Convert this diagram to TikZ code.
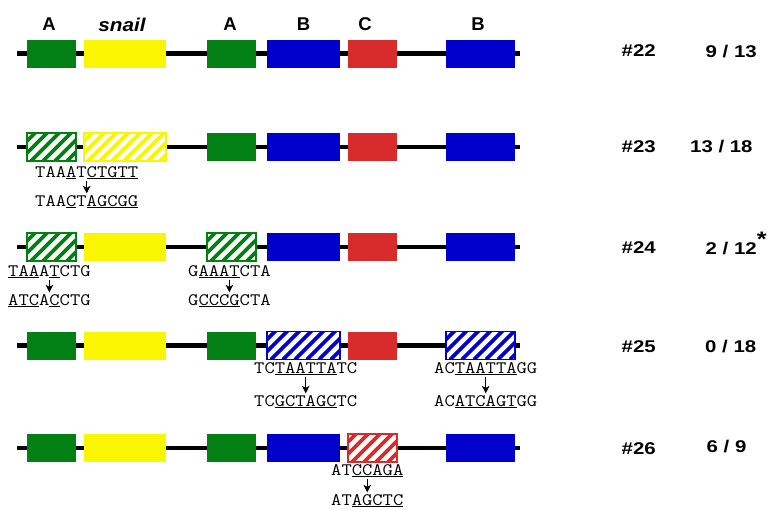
\documentclass[tikz,border=0pt]{standalone}
\usepackage{fontspec}
\setmainfont{Liberation Sans}
\newfontfamily\seqfont[FakeStretch=1.143]{Latin Modern Mono}
\newfontfamily\widefont[FakeStretch=1.2]{Liberation Sans}
\newfontfamily\snailfont[FakeStretch=1.12]{Liberation Sans}
\usetikzlibrary{arrows.meta}

\definecolor{siteA}{RGB}{3,128,19}
\definecolor{siteS}{RGB}{250,245,0}
\definecolor{siteB}{RGB}{0,0,205}
\definecolor{siteC}{RGB}{216,44,44}

\newcommand\mut[1]{\underline{#1}}
% hatched box: colour, left, right, row
\newcommand\hatchbox[4]{%
  \begin{scope}
    \clip (#2,#4-14) rectangle (#3,#4+14);
    \fill[white] (#2,#4-14) rectangle (#3,#4+14);
    \foreach \k in {-32,-20,...,90}
    \draw[#1,line width=3.6pt] (#2+\k,#4+14) -- ++(30,-30);
  \end{scope}
  \draw[#1,line width=1.2pt] (#2,#4-14) rectangle (#3,#4+14);}

\tikzset{
  site/.style={font=\bfseries\fontsize{18.5}{20}\selectfont,inner sep=0pt,anchor=base},
  clone/.style={font=\widefont\bfseries\fontsize{17}{20}\selectfont,inner sep=0pt,anchor=base west},
  seq/.style={font=\seqfont\fontsize{17.5}{20}\selectfont,inner sep=0pt,anchor=base west},
  mutarrow/.style={-{Stealth[length=7.5pt,width=7.5pt,inset=2pt]},line width=1.3pt,shorten <=1.5pt,shorten >=1.5pt}
}

\begin{document}
\begin{tikzpicture}[x=1pt,y=-1pt]

          \useasboundingbox (0,0) rectangle (775,509);

          \foreach \y in {53.5,147,247,345.5,448}{
          \draw[line width=4.5pt] (17,\y) -- (520,\y);
          \foreach \a/\b/\c in {27/76/siteA,84/166/siteS,207/256/siteA,267/340/siteB,348/397/siteC,446/515/siteB}
          \fill[\c] (\a,\y-14) rectangle (\b,\y+14);
          }

          \hatchbox{siteA}{27}{76}{147}
          \hatchbox{siteS}{84}{166}{147}
          \hatchbox{siteA}{27}{76}{247}
          \hatchbox{siteA}{207}{256}{247}
          \hatchbox{siteB}{267}{340}{345.5}
          \hatchbox{siteB}{446}{515}{345.5}
          \hatchbox{siteC}{348}{397}{448}

          \node[site] (labA1) at (49,30) {A};
          \node[site] (labS) at (122,31) {\snailfont\itshape snail};
          \node[site] (labA2) at (230,30) {A};
          \node[site] (labB1) at (303.5,30) {B};
          \node[site] (labC) at (365,30) {C};
          \node[site] (labB2) at (478,30) {B};

          \foreach \n/\y in {22/56.7,23/152,24/253,25/352,26/454}
          \node[clone] (clone\n) at (621.5,\y) {\#\n};
          \node[clone] (ratio22) at (705.5,57) {9 / 13};
          \node[clone] (ratio23) at (690,152) {13 / 18};
          \node[clone] (ratio24) at (705.5,254) {2 / 12\raisebox{8pt}{\fontsize{21}{21}\selectfont*}};
          \node[clone] (ratio25) at (705,352) {0 / 18};
          \node[clone] (ratio26) at (706.5,452) {6 / 9};

          \node[seq] (wt23) at (35,177) {TAA\mut{A}T\mut{CTGTT}};
          \node[seq] (mt23) at (35,206) {TAA\mut{C}T\mut{AGCGG}};
          \node[seq] (wt24a) at (8,276) {\mut{TAA}A\mut{T}CTG};
          \node[seq] (mt24a) at (8,305) {\mut{ATC}A\mut{C}CTG};
          \node[seq] (wt24b) at (188,276) {G\mut{AAAT}CTA};
          \node[seq] (mt24b) at (188,305) {G\mut{CCCG}CTA};
          \node[seq] (wt25a) at (254,373) {TC\mut{TAATTA}TC};
          \node[seq] (mt25a) at (254,406) {TC\mut{GCTAGC}TC};
          \node[seq] (wt25b) at (434,373) {AC\mut{TAATTA}GG};
          \node[seq] (mt25b) at (434,406) {AC\mut{ATCAGT}GG};
          \node[seq] (wt26) at (331,475) {AT\mut{CCAGA}};
          \node[seq] (mt26) at (331,505) {AT\mut{AGCTC}};

          \foreach \s in {23,24a,24b,25a,25b,26}
          \draw[mutarrow] (wt\s) -- (mt\s);
        \end{tikzpicture}
\end{document}
